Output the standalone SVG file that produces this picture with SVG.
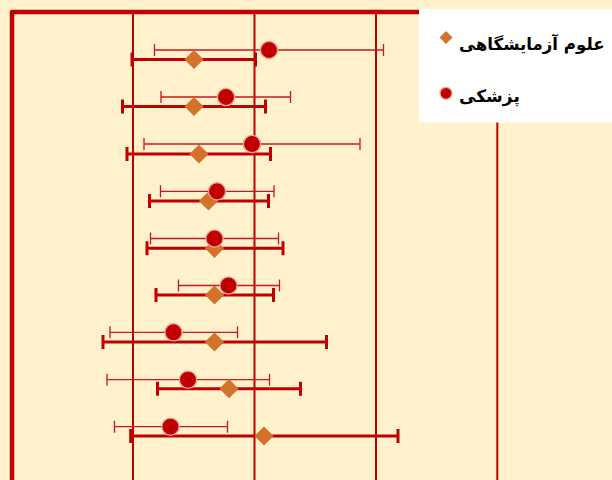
<svg xmlns="http://www.w3.org/2000/svg" width="612" height="480" viewBox="0 0 612 480">
<defs>
<style>
.grid{stroke:#C00000;stroke-width:2;fill:none}
.frame{stroke:#C00000;stroke-width:4.5;fill:none;stroke-linejoin:round}
.thin{stroke:#C8181C;stroke-width:1.3;fill:none}
.thick{stroke:#C00000;stroke-width:3;fill:none}
.dia{fill:#D4722C}
.dot{fill:#C00000;stroke:#F2A49C;stroke-width:1.3}
.lg{font-family:"DejaVu Sans",sans-serif;font-weight:bold;font-size:17px;fill:#000}
</style>
<path id="d" d="M0,-9.6 L9.6,0 L0,9.6 L-9.6,0 Z"/>
</defs>
<rect x="0" y="0" width="612" height="480" fill="#FFF1CC"/>
<g id="gridlines">
<line class="grid" x1="133" y1="12" x2="133" y2="480"/>
<line class="grid" x1="254.5" y1="12" x2="254.5" y2="480"/>
<line class="grid" x1="376" y1="12" x2="376" y2="480"/>
<line class="grid" x1="497.3" y1="12" x2="497.3" y2="480"/>
</g>
<g id="frame">
<path class="frame" d="M12,480 L12,12 L612,12"/>
</g>
<g id="connectors">
<g id="bars-thick">
<path class="thick" d="M132,59.5H255.5M132,52.5V66.5M255.5,52.5V66.5"/>
<path class="thick" d="M122.5,106.5H265.5M122.5,99.5V113.5M265.5,99.5V113.5"/>
<path class="thick" d="M127,154H270.5M127,147V161M270.5,147V161"/>
<path class="thick" d="M149.5,201H268.5M149.5,194V208M268.5,194V208"/>
<path class="thick" d="M147,248.3H283M147,241.3V255.3M283,241.3V255.3"/>
<path class="thick" d="M156,295H273.5M156,288V302M273.5,288V302"/>
<path class="thick" d="M103,342H326.5M103,335V349M326.5,335V349"/>
<path class="thick" d="M157.5,388.7H300.5M157.5,381.7V395.7M300.5,381.7V395.7"/>
<path class="thick" d="M130.7,436H398M130.7,429V443M398,429V443"/>
</g>
<g id="bars-thin">
<path class="thin" d="M154.5,50H383.5M154.5,44V56M383.5,44V56"/>
<path class="thin" d="M161,97H290.5M161,91V103M290.5,91V103"/>
<path class="thin" d="M144,144H360M144,138V150M360,138V150"/>
<path class="thin" d="M160.5,191.3H274M160.5,185.3V197.3M274,185.3V197.3"/>
<path class="thin" d="M150.5,238.5H278.5M150.5,232.5V244.5M278.5,232.5V244.5"/>
<path class="thin" d="M178.5,285.5H279.5M178.5,279.5V291.5M279.5,279.5V291.5"/>
<path class="thin" d="M110,332.3H237.5M110,326.3V338.3M237.5,326.3V338.3"/>
<path class="thin" d="M107,379.7H269.5M107,373.7V385.7M269.5,373.7V385.7"/>
<path class="thin" d="M114.5,426.7H227.5M114.5,420.7V432.7M227.5,420.7V432.7"/>
</g>
</g>
<g id="series-lab">
<use href="#d" class="dia" x="194" y="59.5"/>
<use href="#d" class="dia" x="194" y="106.5"/>
<use href="#d" class="dia" x="199" y="154"/>
<use href="#d" class="dia" x="208.5" y="201"/>
<use href="#d" class="dia" x="214.5" y="248.3"/>
<use href="#d" class="dia" x="214.5" y="295"/>
<use href="#d" class="dia" x="214.5" y="342"/>
<use href="#d" class="dia" x="229" y="388.7"/>
<use href="#d" class="dia" x="264" y="436"/>
</g>
<g id="series-med">
<circle class="dot" cx="269" cy="50" r="8.6"/>
<circle class="dot" cx="226" cy="97" r="8.6"/>
<circle class="dot" cx="252" cy="144" r="8.6"/>
<circle class="dot" cx="217" cy="191.3" r="8.6"/>
<circle class="dot" cx="214.5" cy="238.5" r="8.6"/>
<circle class="dot" cx="228.5" cy="285.5" r="8.6"/>
<circle class="dot" cx="173.5" cy="332.3" r="8.6"/>
<circle class="dot" cx="188" cy="379.7" r="8.6"/>
<circle class="dot" cx="170.5" cy="426.7" r="8.6"/>
</g>
<g id="legend">
<rect x="419" y="9" width="193" height="113.5" fill="#FFFFFF"/>
<path class="dia" d="M446,31 L452.5,37.5 L446,44 L439.5,37.5 Z"/>
<text class="lg" x="459" y="50" style="font-size:16.6px">علوم آزمایشگاهی</text>
<circle class="dot" cx="446" cy="93.3" r="6"/>
<text class="lg" x="459" y="101.5">پزشکی</text>
</g>
</svg>
